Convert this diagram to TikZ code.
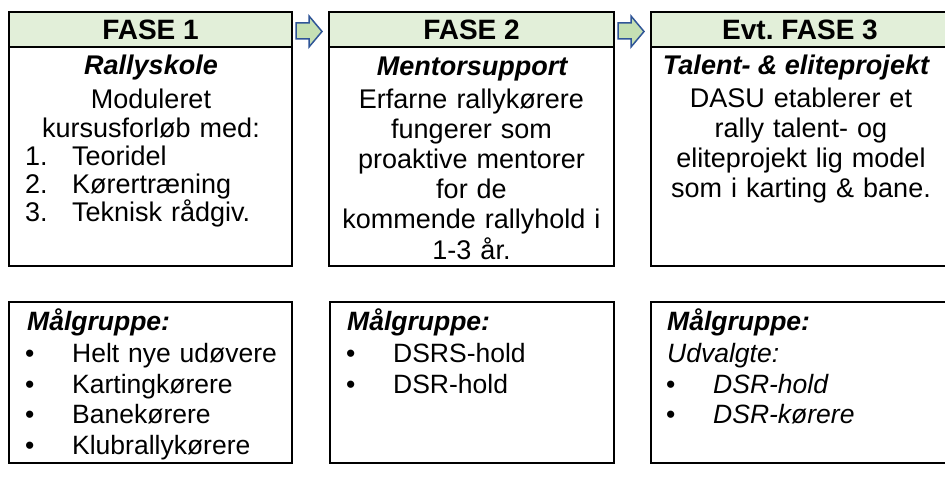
\documentclass[tikz,border=0pt]{standalone}
\usepackage{fontspec}
\setmainfont{Liberation Sans}
\frenchspacing
\definecolor{hdrfill}{HTML}{E2EFD9}
\definecolor{arrfill}{HTML}{C5E0B4}
\definecolor{arrdraw}{HTML}{2F5597}
\newcommand\txtsize{\fontsize{27}{30.2}\selectfont}
\newcommand\hdrsize{\fontsize{28}{30}\selectfont}
\newcommand\lstsize{\fontsize{27}{28}\selectfont}
\newcommand\btmsize{\fontsize{26.5}{30.5}\selectfont}
\begin{document}
\begin{tikzpicture}[x=1pt,y=-1pt,
  frame/.style={draw=black,line width=2pt},
  hdr/.style={frame,fill=hdrfill},
  phasearrow/.style={draw=arrdraw,fill=arrfill,line width=1.5pt,line join=miter},
  title/.style={anchor=base,inner sep=0pt,font=\hdrsize\bfseries},
  subtitle/.style={anchor=base,inner sep=0pt,font=\txtsize\bfseries\itshape},
  body/.style={anchor=base,inner sep=0pt,align=center,text width=300pt,font=\txtsize},
  lst/.style={anchor=base west,inner sep=0pt,align=left,text width=270pt,font=\lstsize},
  btm/.style={anchor=base west,inner sep=0pt,align=left,text width=270pt,font=\btmsize}]
\useasboundingbox (0,0) rectangle (945,492);
\begin{scope}
\clip (0,0) rectangle (945,492);
% top boxes
\draw[hdr] (9,12) rectangle (292,47);
\draw[frame] (9,47) rectangle (292,266);
\draw[hdr] (329,12) rectangle (614,47);
\draw[frame] (329,47) rectangle (614,266);
\draw[hdr] (651,12) rectangle (950,47);
\draw[frame] (651,47) rectangle (950,266);
% bottom boxes
\draw[frame] (9,302) rectangle (292,463);
\draw[frame] (330,302) rectangle (614,463);
\draw[frame] (651,302) rectangle (950,463);
\end{scope}
% arrows
\draw[phasearrow] (296,23) -- (309,23) -- (309,16) -- (322,31.5) -- (309,47) -- (309,39) -- (296,39) -- cycle;
\draw[phasearrow] (618,23) -- (631,23) -- (631,16) -- (644,31.5) -- (631,47) -- (631,39) -- (618,39) -- cycle;
% headers
\node[title] (h1) at (150.5,40) {FASE 1};
\node[title] (h2) at (471.5,40) {FASE 2};
\node[title] (h3) at (800,40) {Evt. FASE 3};
% box 1
\node[subtitle] (s1) at (151,75) {Rallyskole};
\node[body,font=\fontsize{27}{29.5}\selectfont] (b1) at (151,108.5) {Moduleret\\kursusforløb med:};
\node[lst] (l1) at (25,165.2) {\makebox[47pt][l]{1.}Teoridel\\\makebox[47pt][l]{2.}Kørertræning\\\makebox[47pt][l]{3.}Teknisk rådgiv.};
% box 2
\node[subtitle] (s2) at (472,76) {Mentorsupport};
\node[body] (b2) at (471.5,108.2) {Erfarne rallykørere\\fungerer som\\proaktive mentorer\\for de\\kommende rallyhold i\\1-3 år.};
% box 3
\node[subtitle] (s3) at (796,75) {Talent- \& eliteprojekt};
\node[body] (b3) at (801,107.2) {DASU etablerer et\\rally talent- og\\eliteprojekt lig model\\som i karting \& bane.};
% bottom texts
\node[btm,font=\btmsize\bfseries\itshape] (m1) at (27,330.2) {Målgruppe:};
\node[btm] (g1) at (25,362.7) {\makebox[47pt][l]{•}Helt nye udøvere\\\makebox[47pt][l]{•}Kartingkørere\\\makebox[47pt][l]{•}Banekørere\\\makebox[47pt][l]{•}Klubrallykørere};
\node[btm,font=\btmsize\bfseries\itshape] (m2) at (347,330.2) {Målgruppe:};
\node[btm] (g2) at (346,362.7) {\makebox[47pt][l]{•}DSRS-hold\\\makebox[47pt][l]{•}DSR-hold};
\node[btm,font=\btmsize\bfseries\itshape] (m3) at (667,330.2) {Målgruppe:};
\node[btm,font=\btmsize\itshape] (g3) at (667,362.7) {Udvalgte:\\\hspace*{-1pt}\makebox[47pt][l]{\upshape•}DSR-hold\\\hspace*{-1pt}\makebox[47pt][l]{\upshape•}DSR-kørere};
\end{tikzpicture}
\end{document}
